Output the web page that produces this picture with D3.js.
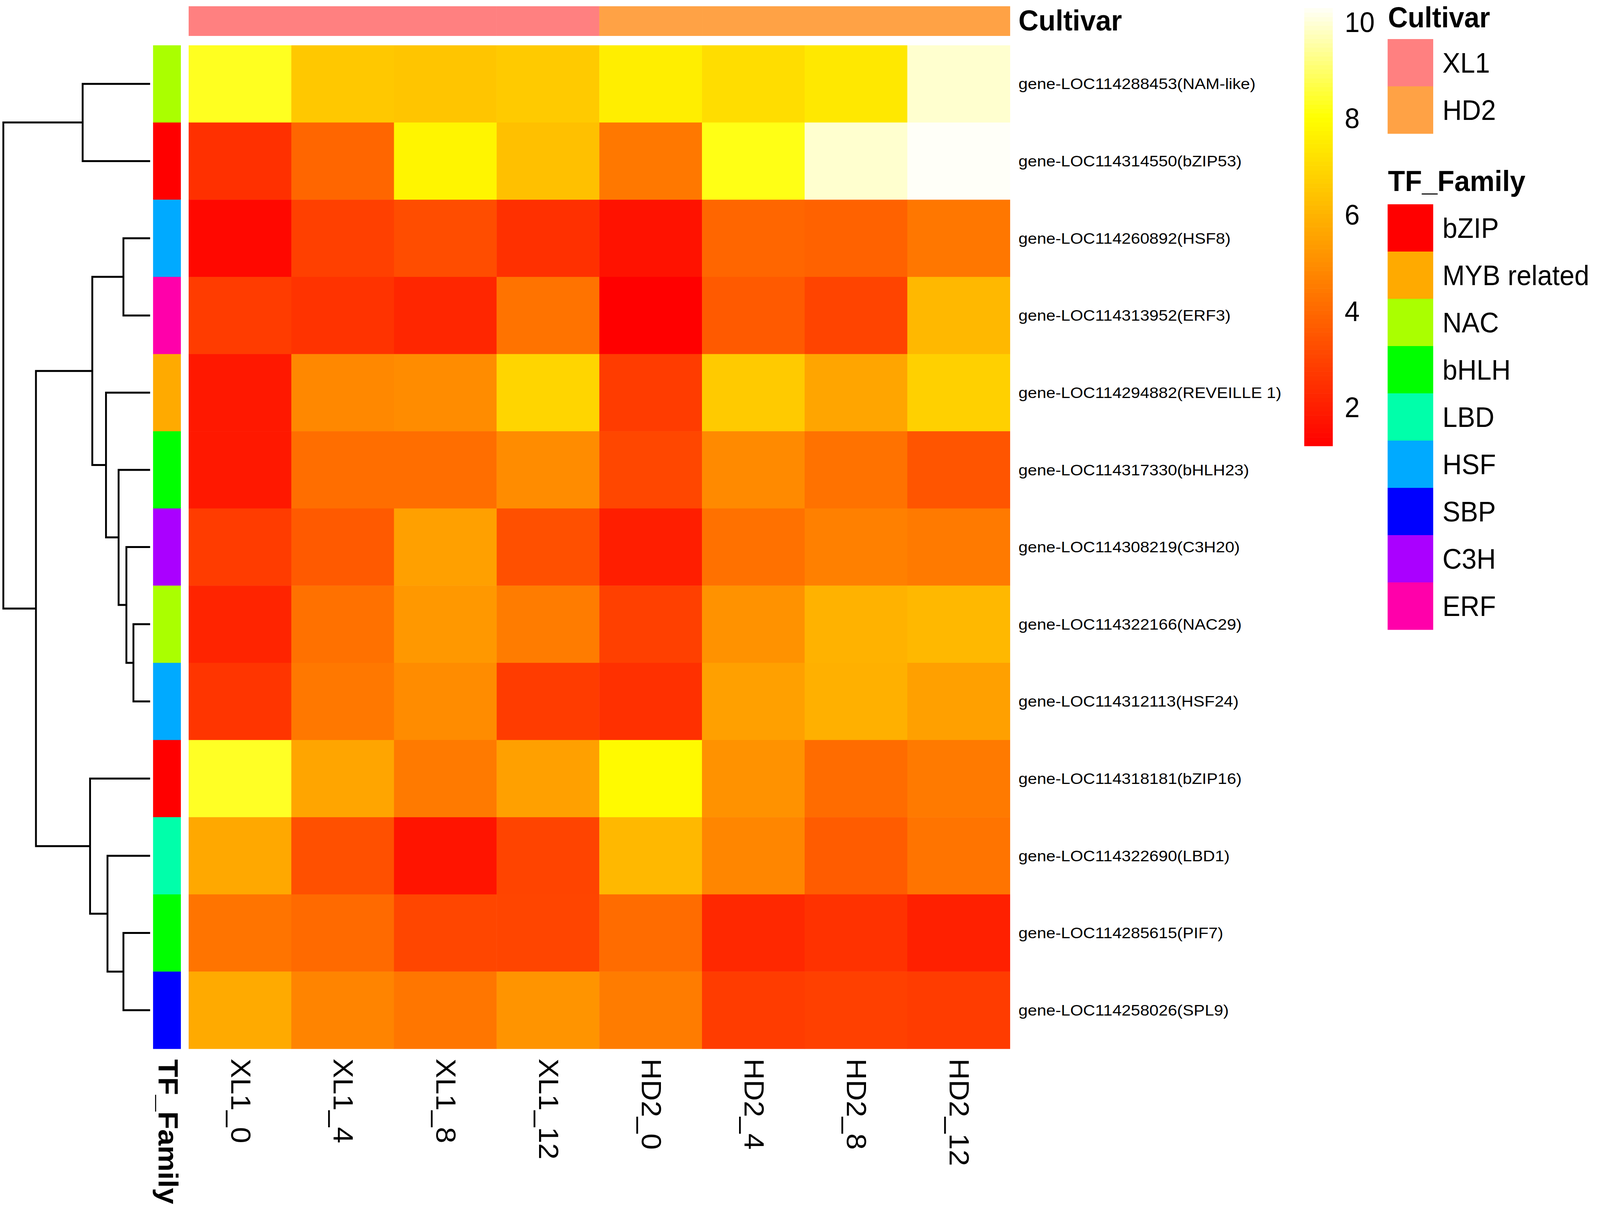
<!DOCTYPE html>
<html>
<head>
<meta charset="utf-8">
<script src="https://cdn.jsdelivr.net/npm/d3@7"></script>
<style>
  html, body { margin: 0; padding: 0; background: #ffffff; width: 100%; height: 100%; overflow: hidden; }
  svg { display: block; width: 100vw; height: 100vh; }
  text { font-family: "Liberation Sans", Arial, Helvetica, sans-serif; fill: #000; }
</style>
</head>
<body>
<svg id="chart" viewBox="0 0 4317 3085" preserveAspectRatio="none"></svg>
<script>
// ---------------- data ----------------
const samples = ["XL1_0", "XL1_4", "XL1_8", "XL1_12", "HD2_0", "HD2_4", "HD2_8", "HD2_12"];
const sampleCultivar = ["XL1", "XL1", "XL1", "XL1", "HD2", "HD2", "HD2", "HD2"];
const genes = [
  "gene-LOC114288453(NAM-like)",
  "gene-LOC114314550(bZIP53)",
  "gene-LOC114260892(HSF8)",
  "gene-LOC114313952(ERF3)",
  "gene-LOC114294882(REVEILLE 1)",
  "gene-LOC114317330(bHLH23)",
  "gene-LOC114308219(C3H20)",
  "gene-LOC114322166(NAC29)",
  "gene-LOC114312113(HSF24)",
  "gene-LOC114318181(bZIP16)",
  "gene-LOC114322690(LBD1)",
  "gene-LOC114285615(PIF7)",
  "gene-LOC114258026(SPL9)"
];
const geneFamily = ["NAC", "bZIP", "HSF", "ERF", "MYB related", "bHLH", "C3H", "NAC", "HSF", "bZIP", "LBD", "bHLH", "SBP"];
const expression = [
  [8.30, 6.54, 6.47, 6.60, 7.55, 7.10, 7.40, 9.90],
  [2.47, 3.92, 7.74, 6.32, 4.40, 8.20, 9.90, 10.28],
  [1.40, 2.90, 3.25, 2.47, 1.67, 3.92, 3.80, 4.37],
  [2.80, 2.55, 2.20, 4.27, 1.19, 3.60, 3.00, 6.10],
  [1.83, 4.83, 4.93, 6.89, 2.80, 6.60, 5.60, 6.75],
  [1.83, 4.13, 4.13, 4.93, 3.10, 4.88, 4.23, 3.46],
  [2.80, 3.60, 5.47, 3.33, 2.00, 4.20, 4.60, 4.45],
  [2.15, 4.20, 5.26, 4.50, 2.90, 5.10, 5.95, 6.10],
  [2.60, 4.40, 4.93, 2.80, 2.47, 5.47, 5.90, 5.47],
  [8.35, 5.60, 4.45, 5.47, 7.88, 5.10, 4.08, 4.45],
  [5.68, 3.33, 1.72, 3.00, 6.10, 4.77, 3.65, 4.30],
  [4.30, 4.03, 3.06, 3.03, 4.08, 2.26, 2.53, 2.05],
  [5.74, 4.72, 4.35, 5.15, 4.50, 2.80, 2.90, 2.80]
];
// row dendrogram merges: [left, right, height]; ints = leaf row index, "nK" = earlier merge
const rowMerges = [
  [0, 1, 182],          // n0
  [2, 3, 72],           // n1
  [7, 8, 45],           // n2
  [6, "n2", 64],        // n3
  [5, "n3", 85],        // n4
  [4, "n4", 119],       // n5
  ["n1", "n5", 156],    // n6
  [11, 12, 72],         // n7
  [10, "n7", 115],      // n8
  [9, "n8", 162],       // n9
  ["n6", "n9", 308],    // n10
  ["n0", "n10", 396]    // n11 (root)
];
const cultivarNames = ["XL1", "HD2"];
const cultivarColors = ["#FF8080", "#FFA245"];
const familyNames = ["bZIP", "MYB related", "NAC", "bHLH", "LBD", "HSF", "SBP", "C3H", "ERF"];
const familyColors = ["#FF0000", "#FFAA00", "#AAFF00", "#00FF00", "#00FFAA", "#00AAFF", "#0000FF", "#AA00FF", "#FF00AA"];
const legendTicks = [2, 4, 6, 8, 10];

// ---------------- layout ----------------
const svg = d3.select("#chart");
svg.append("rect").attr("width", 4317).attr("height", 3085).attr("fill", "#fff");

const hmLeft = 509, hmRight = 2725, hmTop = 116, hmBottom = 2685;
const x = d3.scaleBand().domain(samples).range([hmLeft, hmRight]);
const y = d3.scaleBand().domain(genes).range([hmTop, hmBottom]);

const allVals = expression.flat();
const vmin = d3.min(allVals), vmax = d3.max(allVals);
const color = d3.scaleLinear()
  .domain([vmin, vmin + 0.75 * (vmax - vmin), vmax])
  .range(["#FF0000", "#FFFF00", "#FFFFF8"])
  .interpolate(d3.interpolateRgb);
const cultColor = d3.scaleOrdinal().domain(cultivarNames).range(cultivarColors);
const famColor = d3.scaleOrdinal().domain(familyNames).range(familyColors);

// ---------------- heatmap cells ----------------
const cells = [];
genes.forEach((g, i) => samples.forEach((s, j) => cells.push({ g, s, v: expression[i][j] })));
svg.append("g").selectAll("rect").data(cells).join("rect")
  .attr("x", d => x(d.s))
  .attr("y", d => y(d.g))
  .attr("width", x.bandwidth() + 0.5)
  .attr("height", y.bandwidth() + 0.5)
  .attr("fill", d => color(d.v));

// ---------------- column annotation (Cultivar) ----------------
svg.append("g").selectAll("rect").data(samples).join("rect")
  .attr("x", d => x(d))
  .attr("y", 16)
  .attr("width", x.bandwidth() + 0.5)
  .attr("height", 76)
  .attr("fill", (d, i) => cultColor(sampleCultivar[i]));
svg.append("text").attr("x", 2748).attr("y", 78)
  .attr("font-size", 75).attr("font-weight", "bold").text("Cultivar");

// ---------------- row annotation (TF_Family) ----------------
svg.append("g").selectAll("rect").data(genes).join("rect")
  .attr("x", 413)
  .attr("y", d => y(d))
  .attr("width", 75)
  .attr("height", y.bandwidth() + 0.5)
  .attr("fill", (d, i) => famColor(geneFamily[i]));
svg.append("text")
  .attr("transform", "translate(428,2712) rotate(90)")
  .attr("font-size", 75).attr("font-weight", "bold").text("TF_Family");

// ---------------- row labels ----------------
svg.append("g").selectAll("text").data(genes).join("text")
  .attr("transform", d => `translate(2748,${y(d) + y.bandwidth() / 2}) scale(1.15,1)`)
  .attr("dy", "0.35em")
  .attr("font-size", 39)
  .text(d => d);

// ---------------- column labels ----------------
svg.append("g").selectAll("text").data(samples).join("text")
  .attr("transform", d => `translate(${x(d) + x.bandwidth() / 2},2710) rotate(90)`)
  .attr("dy", "0.32em")
  .attr("font-size", 75)
  .text(d => d);

// ---------------- row dendrogram ----------------
const hScale = d3.scaleLinear().domain([0, d3.max(rowMerges, m => m[2])]).range([405, 9]);
const nodes = {};
function nodeOf(ref) {
  if (typeof ref === "number") return { y: y(genes[ref]) + y.bandwidth() / 2, h: 0 };
  return nodes[ref];
}
const dendPath = d3.path();
rowMerges.forEach((m, k) => {
  const a = nodeOf(m[0]), b = nodeOf(m[1]);
  const hx = hScale(m[2]);
  dendPath.moveTo(hScale(a.h), a.y); dendPath.lineTo(hx, a.y);
  dendPath.lineTo(hx, b.y); dendPath.lineTo(hScale(b.h), b.y);
  nodes["n" + k] = { y: (a.y + b.y) / 2, h: m[2] };
});
svg.append("path").attr("d", dendPath.toString())
  .attr("fill", "none").attr("stroke", "#000").attr("stroke-width", 5)
  .attr("stroke-linejoin", "miter").attr("stroke-linecap", "butt");

// ---------------- color legend ----------------
const lg = d3.scaleLinear().domain([vmin, vmax]).range([1142, 21]);
const nSteps = 100;
const stepVals = d3.range(nSteps).map(i => vmin + (i + 0.5) * (vmax - vmin) / nSteps);
const stepH = (1142 - 21) / nSteps;
svg.append("g").selectAll("rect").data(stepVals).join("rect")
  .attr("x", 3519).attr("width", 77)
  .attr("y", d => lg(d) - stepH / 2 - 0.3)
  .attr("height", stepH + 0.6)
  .attr("fill", d => color(d));
svg.append("g").selectAll("text").data(legendTicks).join("text")
  .attr("x", 3628).attr("y", d => lg(d))
  .attr("dy", "0.36em")
  .attr("font-size", 73)
  .text(d => d);

// ---------------- annotation legends ----------------
const swX = 3744, swW = 123, swH = 121, labX = 3892;
svg.append("text").attr("x", 3745).attr("y", 70)
  .attr("font-size", 74).attr("font-weight", "bold").text("Cultivar");
svg.append("g").selectAll("rect").data(cultivarNames).join("rect")
  .attr("x", swX).attr("y", (d, i) => 100 + i * swH)
  .attr("width", swW).attr("height", swH + 0.5)
  .attr("fill", d => cultColor(d));
svg.append("g").selectAll("text").data(cultivarNames).join("text")
  .attr("x", labX).attr("y", (d, i) => 100 + i * swH + swH / 2)
  .attr("dy", "0.36em").attr("font-size", 72).text(d => d);

svg.append("text").attr("x", 3745).attr("y", 489)
  .attr("font-size", 75).attr("font-weight", "bold").text("TF_Family");
svg.append("g").selectAll("rect").data(familyNames).join("rect")
  .attr("x", swX).attr("y", (d, i) => 523 + i * swH)
  .attr("width", swW).attr("height", swH + 0.5)
  .attr("fill", d => famColor(d));
svg.append("g").selectAll("text").data(familyNames).join("text")
  .attr("x", labX).attr("y", (d, i) => 523 + i * swH + swH / 2)
  .attr("dy", "0.36em").attr("font-size", 72).text(d => d);
</script>
</body>
</html>
